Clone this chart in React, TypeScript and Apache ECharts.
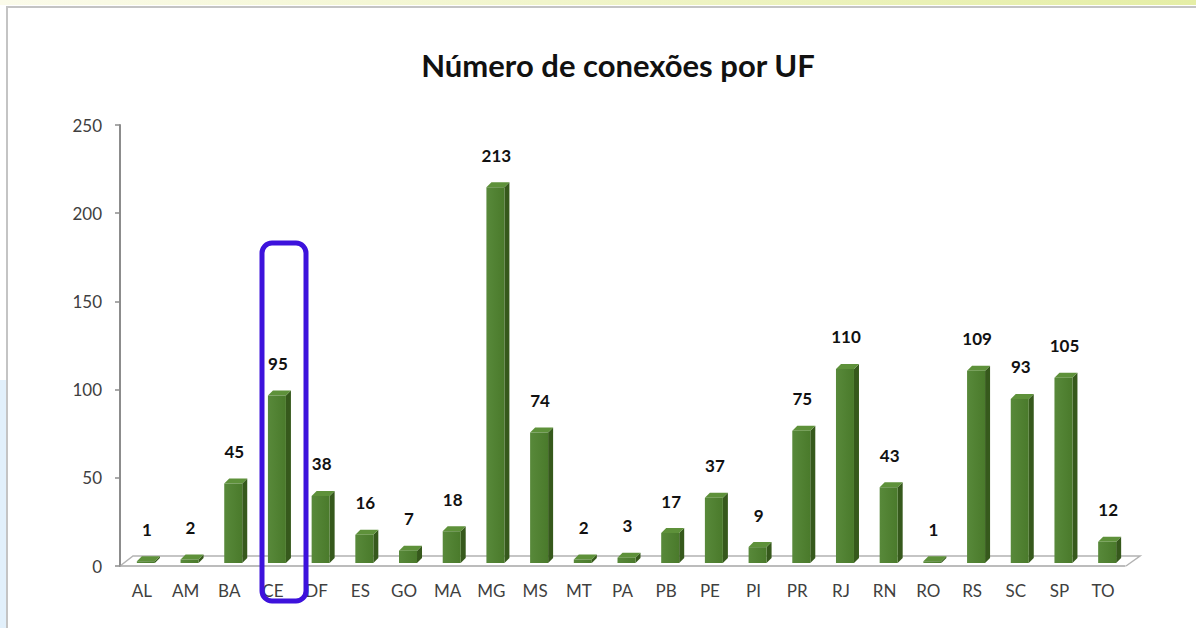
import React, { useEffect, useRef } from "react";
import * as echarts from "echarts";

const categories = ["AL", "AM", "BA", "CE", "DF", "ES", "GO", "MA", "MG", "MS", "MT", "PA", "PB", "PE", "PI", "PR", "RJ", "RN", "RO", "RS", "SC", "SP", "TO"];
const connections = [1, 2, 45, 95, 38, 16, 7, 18, 213, 74, 2, 3, 17, 37, 9, 75, 110, 43, 1, 109, 93, 105, 12];
const yTicks = { min: 0, max: 250, interval: 50 };
const titleText = "Número de conexões por UF";

const GRID = { left: 120, right: 71, top: 125, bottom: 62 };
const W = 1196;
const H = 628;

export default function App() {
  const ref = useRef<HTMLDivElement>(null);
  useEffect(() => {
    if (!ref.current) return;
    const chart = echarts.init(ref.current, null, { renderer: "svg" });
    const x0 = GRID.left;
    const x1 = W - GRID.right;
    const yb = H - GRID.bottom;
    const depthX = 13;
    const depthY = 10;

    const renderItem = (params: any, api: any) => {
      const idx = api.value(0);
      const v = api.value(1);
      const base = api.coord([idx, 0]);
      const top = api.coord([idx, v]);
      const cx = base[0];
      const yBase = base[1] - 3;
      const yTop = top[1] - 3;
      const fx0 = cx - 5;
      const fx1 = cx + 13;
      const d = 5;
      return {
        type: "group",
        children: [
          {
            type: "polygon",
            shape: { points: [[fx1, yBase], [fx1 + d, yBase - d], [fx1 + d, yTop - d], [fx1, yTop]] },
            style: { fill: "#36591c" },
          },
          {
            type: "polygon",
            shape: { points: [[fx0, yTop], [fx1, yTop], [fx1 + d, yTop - d], [fx0 + d, yTop - d]] },
            style: { fill: "#5e913a" },
          },
          {
            type: "rect",
            shape: { x: fx0, y: yTop, width: fx1 - fx0, height: Math.max(yBase - yTop, 0.5) },
            style: {
              fill: new echarts.graphic.LinearGradient(0, 0, 1, 0, [
                { offset: 0, color: "#58893a" },
                { offset: 1, color: "#4a7a2b" },
              ]),
            },
          },
          {
            type: "text",
            x: cx + 5,
            y: yTop - 32,
            style: {
              text: String(v),
              fill: "#111",
              font: "bold 17px Lato",
              align: "center",
              verticalAlign: "middle",
            },
          },
        ],
      };
    };

    chart.setOption({
      animation: false,
      backgroundColor: "#ffffff",
      title: {
        text: titleText,
        left: 613,
        top: 44,
        textAlign: "center",
        textStyle: { fontFamily: "Lato", fontWeight: "bold", fontSize: 31, color: "#111" },
      },
      grid: GRID,
      xAxis: {
        type: "category",
        data: categories,
        axisLine: { lineStyle: { color: "#a6a6a6", width: 1.5 } },
        axisTick: { length: 6, lineStyle: { color: "#a6a6a6", width: 1.5 } },
        axisLabel: { color: "#404040", fontSize: 17, fontFamily: "Lato", margin: 16 },
      },
      yAxis: {
        type: "value",
        min: yTicks.min,
        max: yTicks.max,
        interval: yTicks.interval,
        splitLine: { show: false },
        axisLine: { show: true, lineStyle: { color: "#8c8c8c", width: 2 } },
        axisTick: { show: true, length: 5, lineStyle: { color: "#8c8c8c", width: 1.5 } },
        axisLabel: { color: "#404040", fontSize: 17, fontFamily: "Lato", margin: 18 },
      },
      graphic: [
        { type: "rect", z: 0, shape: { x: 0, y: 0, width: W, height: 5 }, style: { fill: new echarts.graphic.LinearGradient(0, 0, 1, 0, [{ offset: 0, color: "#fbfbea" }, { offset: 1, color: "#e5eea6" }]) } },
        { type: "rect", z: 0, shape: { x: 0, y: 380, width: 6, height: 248 }, style: { fill: "#e2f0fb" } },
        { type: "line", z: 1, shape: { x1: 6, y1: 7, x2: W, y2: 7 }, style: { stroke: "#c4c4c4", lineWidth: 2 } },
        { type: "line", z: 1, shape: { x1: 7, y1: 7, x2: 7, y2: H }, style: { stroke: "#c4c4c4", lineWidth: 2 } },
        {
          type: "polyline",
          z: 0,
          shape: { points: [[x0, yb], [x0 + depthX, yb - depthY], [x1 + depthX + 2, yb - depthY], [x1 + 1, yb]] },
          style: { stroke: "#b3b3b3", lineWidth: 1.5, fill: "none" },
        },
        {
          type: "rect",
          z: 100,
          shape: { x: 262, y: 243, width: 44, height: 358, r: 10 },
          style: { fill: "none", stroke: "#3d12dc", lineWidth: 5 },
        },
      ],
      series: [
        {
          type: "custom",
          renderItem,
          data: connections.map((v, i) => [i, v]),
          encode: { x: 0, y: 1 },
          z: 5,
        },
      ],
    });
    return () => chart.dispose();
  }, []);
  return <div ref={ref} style={{ position: "fixed", left: 0, top: 0, width: W, height: H, background: "#fff" }} />;
}
